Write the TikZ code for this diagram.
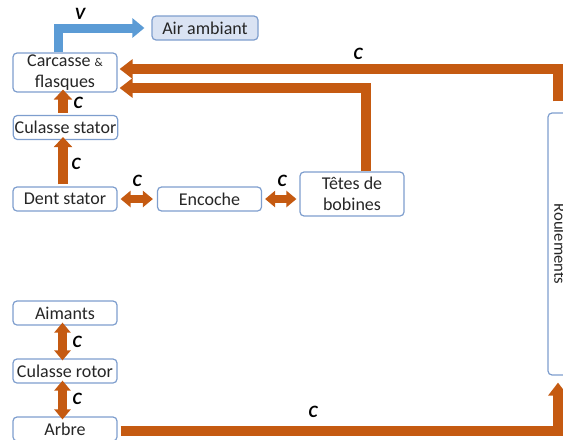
\documentclass[tikz,border=0pt]{standalone}
\usepackage{fontspec}
\setmainfont{Carlito}
\usetikzlibrary{positioning,arrows.meta,calc}
\definecolor{boxblue}{RGB}{126,158,206}
\definecolor{airfill}{RGB}{218,227,243}
\definecolor{flowblue}{RGB}{91,155,213}
\definecolor{heatorange}{RGB}{197,90,17}

\begin{document}
\begin{tikzpicture}[
    x=0.75pt, y=-0.75pt,
    font=\fontsize{13.5}{15.5}\selectfont,
    part/.style={
      draw=boxblue, rounded corners=3pt, line width=0.9pt,
      inner sep=1pt, minimum width=78pt, minimum height=18pt,
      fill=white, text=black!85, align=center
    },
    airbox/.style={part, fill=airfill, minimum width=79.5pt},
    clabel/.style={font=\fontsize{13}{14}\selectfont\bfseries\itshape, text=black},
    heat/.style={
      draw=heatorange, line width=7.5pt, line join=miter,
      -{Triangle[length=9.75pt, width=14.25pt]}
    },
    heatshort/.style={
      draw=heatorange, line width=7pt,
      -{Triangle[length=7.5pt, width=13.5pt]}
    },
    heatboth/.style={
      draw=heatorange, line width=6.5pt,
      {Triangle[length=7.5pt, width=12pt]}-{Triangle[length=7.5pt, width=12pt]}
    },
    vent/.style={
      draw=flowblue, line width=6.75pt, line join=miter,
      -{Triangle[length=9pt, width=14.25pt]}
    },
  ]
    \useasboundingbox (0,0) rectangle (563,439);
    \clip (0,0) rectangle (563,439);

    %── Stator side ─────────────────────────────────────────────────────
    \node[airbox] (air)   at (205,28)  {Air ambiant};
    \node[part, minimum height=29.25pt] (carc) at (65,72.5)
      {Carcasse {\fontsize{9}{10}\selectfont\&}\\flasques};
    \node[part] (culst)   at (65.5,127.5) {Culasse stator};
    \node[part] (dent)    at (65,199)  {Dent stator};
    \node[part] (enc)     at (209.5,199) {Encoche};
    \node[part, minimum height=33pt] (tetes) at (352,194) {Têtes de\\bobines};

    %── Rotor side ──────────────────────────────────────────────────────
    \node[part] (aim)     at (65,313)  {Aimants};
    \node[part] (culrot)  at (65,371)  {Culasse rotor};
    \node[part] (arbre)   at (65,429)  {Arbre};
    \node[part, rotate=-90, minimum width=196.5pt, minimum height=18pt,
      font=\fontsize{12.5}{13}\selectfont]
      (roul) at (560,244) {Roulements};

    %── Ventilation to ambient air ──────────────────────────────────────
    \draw[vent] ($(carc.north)+(-6.5,0)$) |- ($(air.west)+(-7,0)$);
    \node[clabel] (lv) at (80,14) {V};

    %── Conduction paths ────────────────────────────────────────────────
    \draw[heat] ($(roul.west)+(-2,-11)$) |- ($(carc.east)+(2,-3.5)$);
    \draw[heat] ($(tetes.north)+(14,0)$) |- ($(carc.east)+(2,15.5)$);
    \draw[heat] ($(arbre.east)+(3,2)$) -| ($(roul.east)+(-2,7)$);

    \draw[heatshort] ($(culst.north)+(-2.5,-2)$) -- ($(carc.south)+(-2,-3)$);
    \draw[heatshort] ($(dent.north)+(-2,-2)$) -- ($(culst.south)+(-2.5,-3)$);
    \draw[heatboth] ($(dent.east)+(3,0)$) -- ($(enc.west)+(-4,0)$);
    \draw[heatboth] ($(enc.east)+(3,0)$) -- ($(tetes.west)+(-3,5)$);
    \draw[heatboth] ($(aim.south)+(-2.5,-3)$) -- ($(culrot.north)+(-2.5,2)$);
    \draw[heatboth] ($(culrot.south)+(-2.5,-3)$) -- ($(arbre.north)+(-2.5,3)$);

    \node[clabel] (l1) at (358,54)  {C};
    \node[clabel] (l2) at (78,103)  {C};
    \node[clabel] (l3) at (76,164)  {C};
    \node[clabel] (l4) at (137,181) {C};
    \node[clabel] (l5) at (282,181) {C};
    \node[clabel] (l6) at (77,342)  {C};
    \node[clabel] (l7) at (77,399)  {C};
    \node[clabel] (l8) at (313,412) {C};

  \end{tikzpicture}
\end{document}
